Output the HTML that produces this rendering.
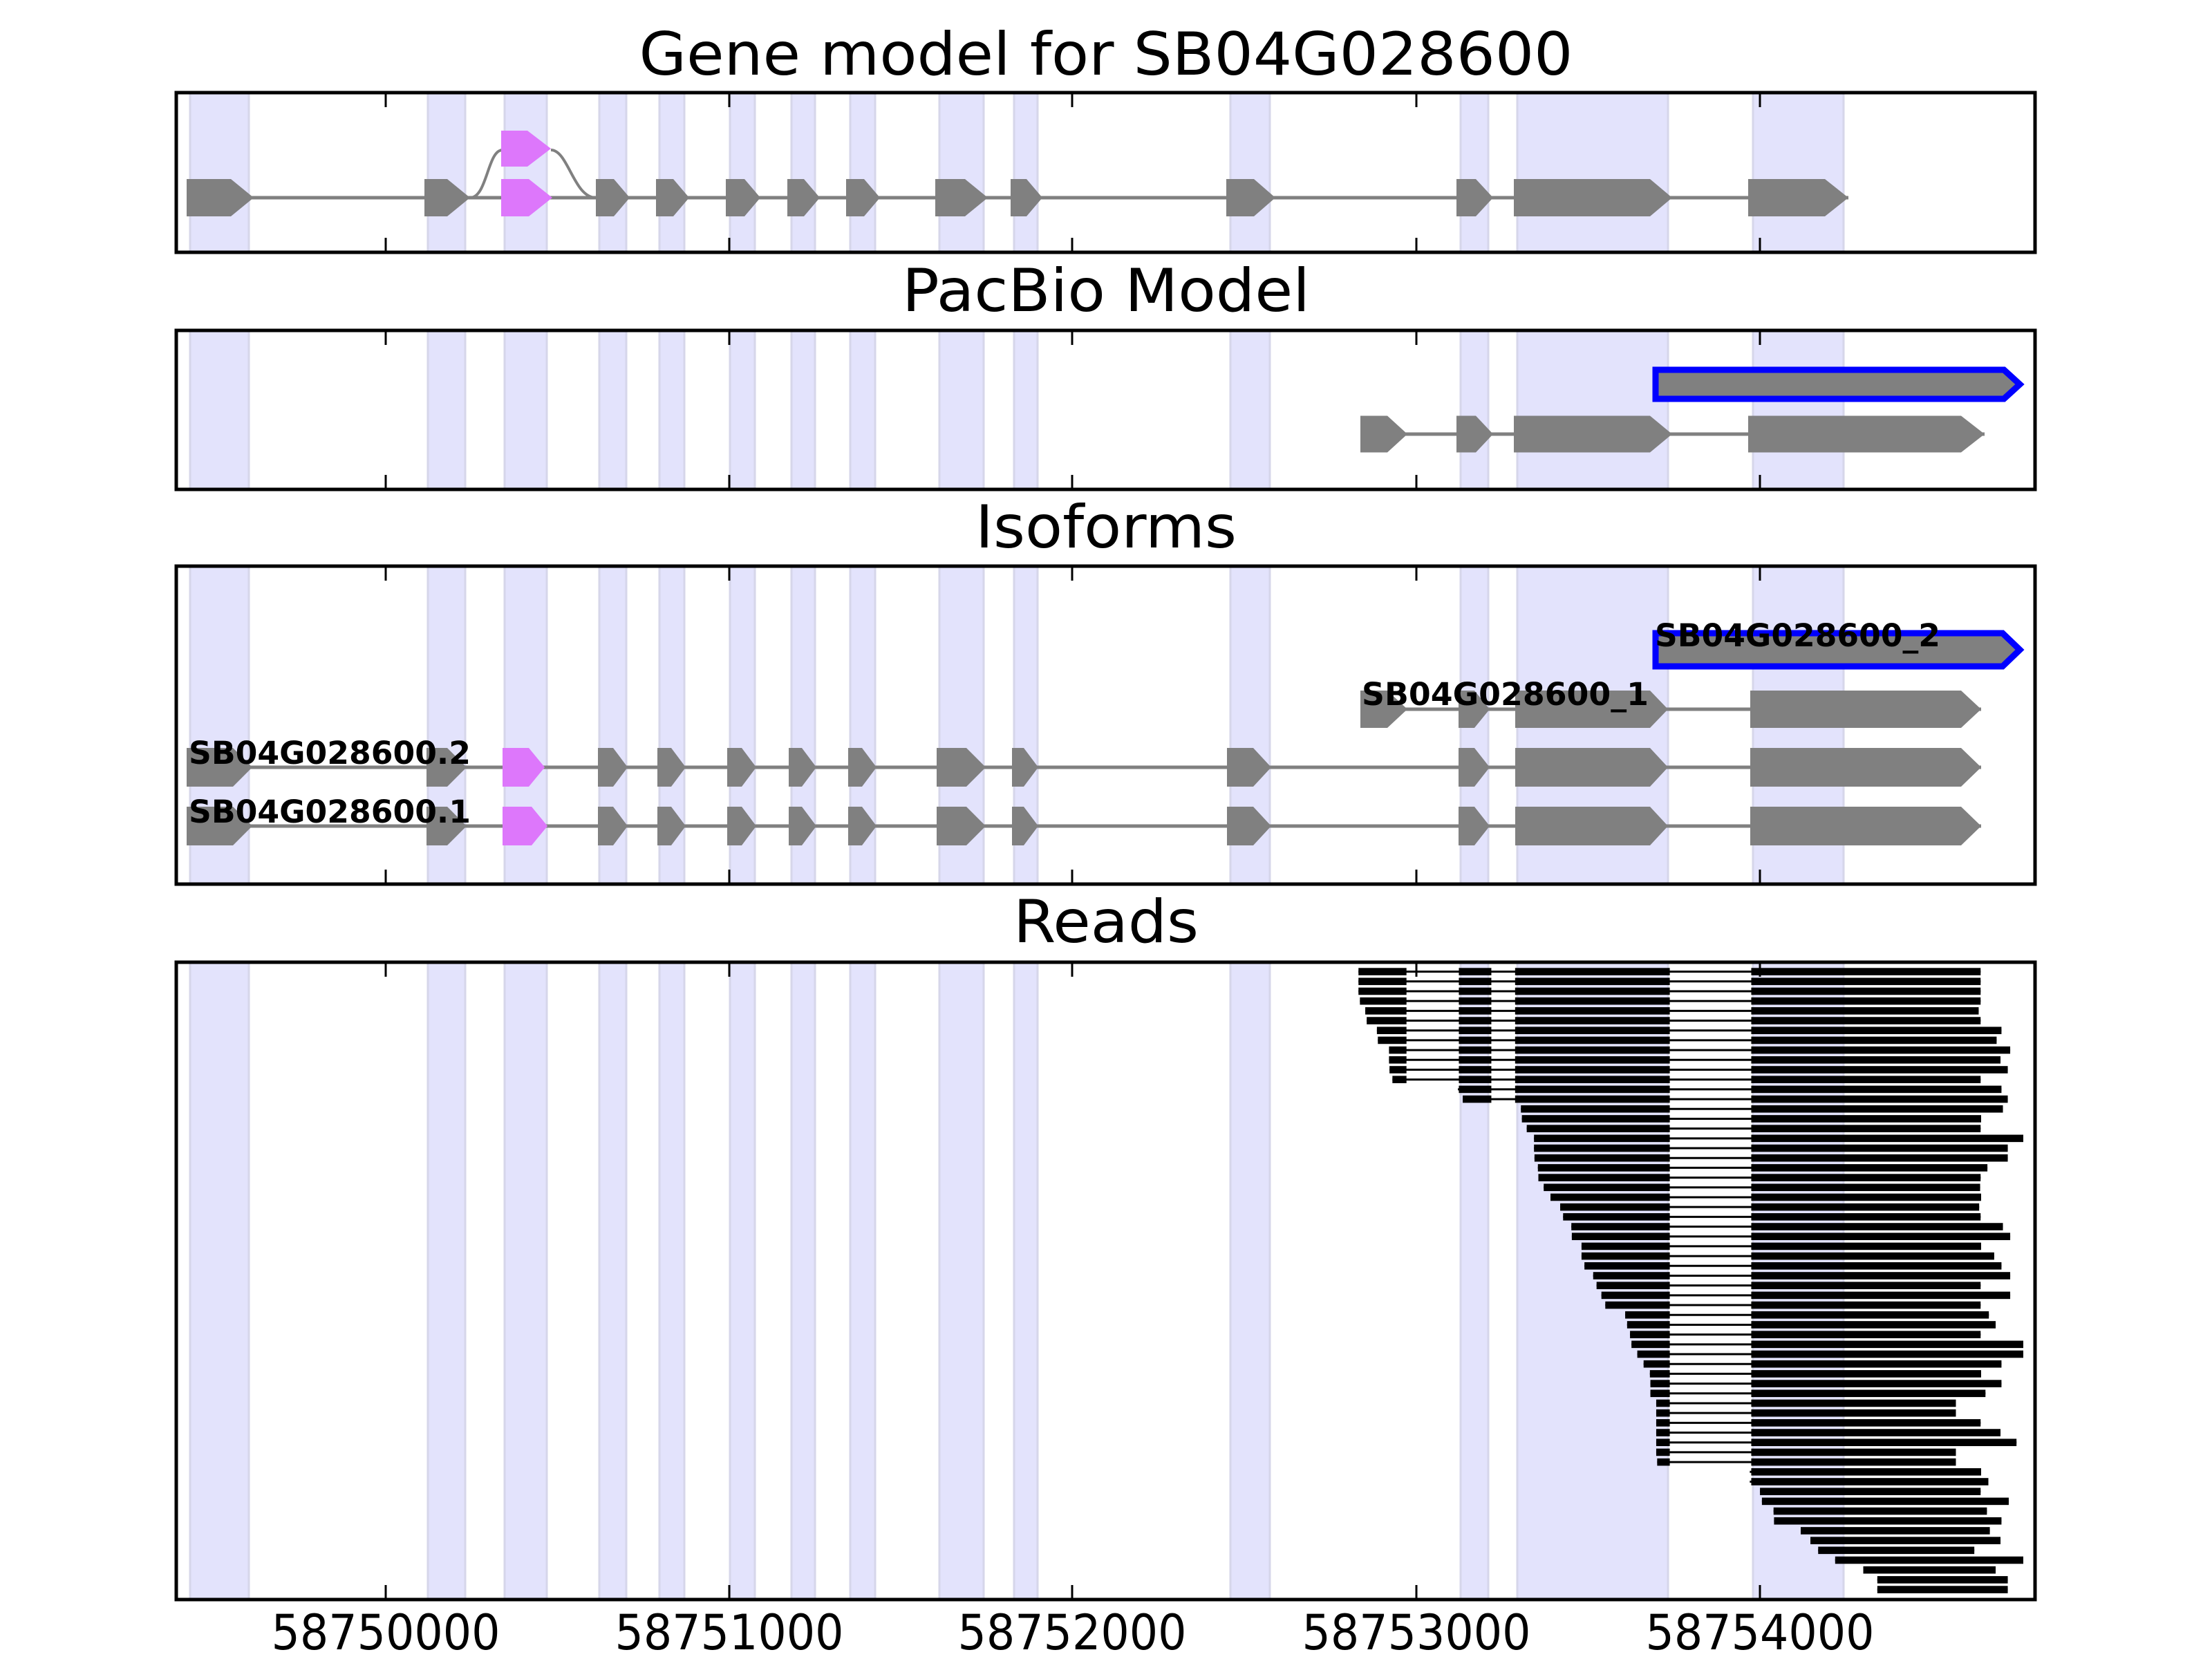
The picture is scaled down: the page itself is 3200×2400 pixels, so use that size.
<!DOCTYPE html>
<html><head><meta charset="utf-8"><style>html,body{margin:0;padding:0;background:#fff}svg{display:block}</style></head>
<body>
<svg id="s" width="3200" height="2400" viewBox="0 0 3200 2400" xmlns="http://www.w3.org/2000/svg" font-family="DejaVu Sans, Liberation Sans, sans-serif">
<rect width="3200" height="2400" fill="#fff"/>
<g id="shade"></g>
<g id="shapes"></g>
<polygon points="2395,535 2899,535 2922,556 2899,577 2395,577" fill="#808080" stroke="#0000ff" stroke-width="9"/>
<polygon points="2395,916 2897,916 2922,940 2897,964 2395,964" fill="#808080" stroke="#0000ff" stroke-width="9"/>
<g id="reads"></g>
<g font-weight="bold" font-size="45" fill="#000">
<text x="273" y="1105" textLength="408" lengthAdjust="spacingAndGlyphs">SB04G028600.2</text>
<text x="273" y="1190" textLength="408" lengthAdjust="spacingAndGlyphs">SB04G028600.1</text>
<text x="1970" y="1020" textLength="415" lengthAdjust="spacingAndGlyphs">SB04G028600_1</text>
<text x="2394" y="935" textLength="413" lengthAdjust="spacingAndGlyphs">SB04G028600_2</text>
</g>
<g font-size="86" fill="#000" text-anchor="middle">
<text x="1600" y="108" textLength="1351" lengthAdjust="spacingAndGlyphs">Gene model for SB04G028600</text>
<text x="1600" y="450" textLength="590" lengthAdjust="spacingAndGlyphs">PacBio Model</text>
<text x="1600" y="792" textLength="378" lengthAdjust="spacingAndGlyphs">Isoforms</text>
<text x="1600" y="1363" textLength="268" lengthAdjust="spacingAndGlyphs">Reads</text>
</g>
<g font-size="70" fill="#000" text-anchor="middle">
<text x="558" y="2386" textLength="331" lengthAdjust="spacingAndGlyphs">58750000</text>
<text x="1055" y="2386" textLength="331" lengthAdjust="spacingAndGlyphs">58751000</text>
<text x="1551" y="2386" textLength="331" lengthAdjust="spacingAndGlyphs">58752000</text>
<text x="2049" y="2386" textLength="331" lengthAdjust="spacingAndGlyphs">58753000</text>
<text x="2546" y="2386" textLength="331" lengthAdjust="spacingAndGlyphs">58754000</text>
</g>
<g id="frames"></g>
</svg>
<script>
var NS="http://www.w3.org/2000/svg";
function el(p,t,a){var e=document.createElementNS(NS,t);for(var k in a)e.setAttribute(k,a[k]);document.getElementById(p).appendChild(e);return e;}
var panels=[[134,365],[478,708],[819,1279],[1392,2314]];
var L=255,R=2944;
var shades=[[275,360],[619,673],[730,791],[867,906],[954,990],[1056,1092],[1145,1179],[1230,1266],[1359,1423],[1467,1501],[1780,1837],[2113,2153],[2195,2413],[2536,2667]];
panels.forEach(function(p){
 shades.forEach(function(s){el("shade","rect",{x:s[0],y:p[0],width:s[1]-s[0],height:p[1]-p[0],fill:"#e3e3fc",stroke:"#d6d6ea","stroke-width":3});});
 el("frames","rect",{x:L,y:p[0],width:R-L,height:p[1]-p[0],fill:"none",stroke:"#000","stroke-width":5});
 [558,1055,1551,2049,2546].forEach(function(x){
  el("frames","line",{x1:x,y1:p[0],x2:x,y2:p[0]+21,stroke:"#000","stroke-width":3});
  el("frames","line",{x1:x,y1:p[1],x2:x,y2:p[1]-21,stroke:"#000","stroke-width":3});
 });
});
function ex(x1,x2,tip,yc,h,c){var a=yc-h/2,b=yc+h/2;el("shapes","polygon",{points:x1+","+a+" "+(x2-tip)+","+a+" "+x2+","+yc+" "+(x2-tip)+","+b+" "+x1+","+b,fill:c||"#808080"});}
function ln(x1,x2,y){el("shapes","line",{x1:x1,y1:y,x2:x2,y2:y,stroke:"#808080","stroke-width":5});}
// panel 1
var y1=286;
ln(270,2674,y1);
el("shapes","path",{d:"M680 286 C705 286 705 217 727 217 M797 217 C822 217 830 286 862 286",fill:"none",stroke:"#808080","stroke-width":4});
[[270,367,33],[614,680,33],[862,911,23],[949,997,23],[1050,1100,23],[1139,1186,23],[1224,1273,23],[1353,1429,33],[1462,1508,23],[1774,1845,31],[2107,2160,25],[2190,2419,32],[2529,2674,34]].forEach(function(e){ex(e[0],e[1],e[2],y1,54);});
ex(725,799,34,y1,54,"#dd77fb");ex(725,797,34,215,52,"#dd77fb");
// panel 2
ln(1968,2871,628);
[[1968,2036,29],[2107,2160,25],[2190,2419,32],[2529,2871,34]].forEach(function(e){ex(e[0],e[1],e[2],628,53);});
// panel 3
ln(1968,2866,1026);
[[1968,2036,29],[2110,2155,22],[2192,2413,26],[2532,2866,29]].forEach(function(e){ex(e[0],e[1],e[2],1026,54);});
[1110,1195].forEach(function(y,i){
 ln(270,2866,y);
 [[270,365,28],[617,675,28],[865,908,21],[951,992,21],[1052,1094,21],[1141,1181,21],[1227,1268,21],[1355,1426,28],[1464,1502,21],[1775,1839,26],[2110,2155,22],[2192,2413,26],[2532,2866,29]].forEach(function(e){ex(e[0],e[1],e[2],y,56);});
 ex(727,i?792:788,23,y,56,"#dd77fb");
});
// reads
var rd=[[93,1376],[93,1376],[93,1376],[96,1376],[107,1372],[110,1376],[131,1419],[133,1409],[156,1437],[156,1417],[157,1432],[163,1376],[298,1419],[308,1432],
[428,1422],[430,1377],[440,1376],[455,1464],[455,1432],[456,1432],[463,1390],[464,1376],[475,1375],[489,1377],[509,1373],[515,1376],[532,1422],[533,1437],[553,1377],[553,1404],[559,1419],[577,1437],[584,1376],[594,1437],[602,1376],[643,1393],[647,1407],[653,1376],[656,1464],[668,1464],[681,1419],[694,1377],[695,1419],[695,1386],[707,1325],[707,1325],[707,1376],[707,1417],[707,1450],[707,1325],[709,1325],
[900,1377],[900,1392],[921,1376],[925,1434],[949,1389],[950,1419],[1005,1395],[1025,1417],[1041,1363],[1076,1464],[1134,1407],[1163,1432],[1163,1432]];
var exz=[[-1e9,192],[300,367],[416,735],[903,1e9]];
function X(z){return 1900+z*0.7015;}
rd.forEach(function(r,i){
 var y=1405.6+i*14.19;
 el("reads","line",{x1:X(r[0]),y1:y,x2:X(r[1]),y2:y,stroke:"#000","stroke-width":3});
 exz.forEach(function(e){var a=Math.max(e[0],r[0]),b=Math.min(e[1],r[1]);if(b>a)el("reads","rect",{x:X(a),y:y-5.3,width:X(b)-X(a),height:10.6,fill:"#000"});});
});
</script>
</body></html>
